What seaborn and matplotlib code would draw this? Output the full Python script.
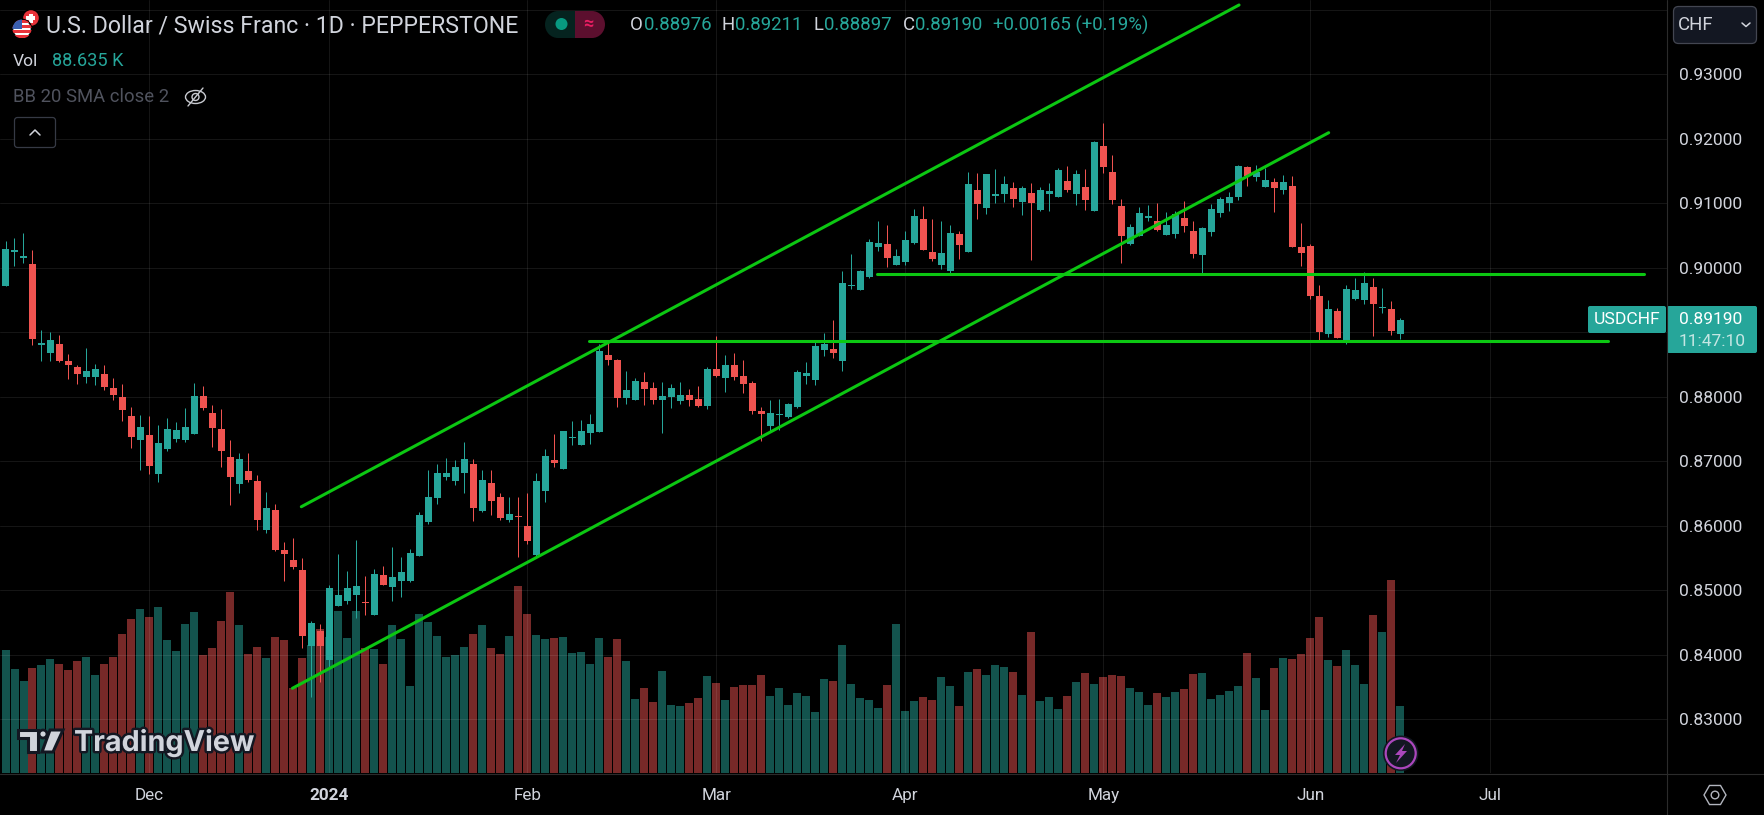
import numpy as np
import pandas as pd
import matplotlib
matplotlib.use("Agg")
import matplotlib.pyplot as plt
from matplotlib.patches import Circle, Rectangle, FancyBboxPatch, Polygon, Ellipse
import matplotlib.patheffects as pe
import seaborn as sns

# prices in 1e-5 CHF
opens = [89718,90248,90155,90059,88806,88680,88819,88556,88463,88307,88307,88354,88137,87997,87703,87331,87408,86804,87191,87346,
87331,87424,88013,87749,87501,87067,86649,86850,86695,85935,86245,85625,85470,85310,84131,84364,83914,84752,84829,84922,
84816,84612,85232,85046,85139,85139,85527,86055,86427,86752,86690,86814,86954,86225,86659,86442,86086,86150,85993,85543,
86535,87015,86876,87354,87248,87434,87449,88643,88566,87977,87945,88225,88132,87945,87992,87930,88023,87961,87852,88426,
88287,88488,88318,88209,87775,87542,87715,87682,87837,88318,88256,88721,88736,88550,89716,89651,89853,90318,90364,90039,
90085,90380,90752,90240,90039,89946,90519,90240,91202,90923,91109,91140,91233,91016,91155,90892,91140,91093,91341,91140,
91248,90876,91884,91481,90954,90364,90488,90768,90721,90504,90519,90768,90566,90194,90550,90845,91000,91093,91558,91403,
91248,91326,91202,91263,90317,90333,89558,88969,89325,88876,89511,89496,89697,89374,89356,88976]
highs = [90416,90463,90540,90276,89036,89005,88959,88664,88494,88757,88509,88494,88292,88199,87842,87718,87703,87563,87672,87610,
87827,88214,88168,87873,87811,87331,87129,87129,86788,86525,86338,85749,85811,85496,84519,84473,85077,85558,85294,85775,
85217,85325,85372,85666,85511,85635,86209,86861,86954,87047,87016,87295,87031,86861,86861,86504,86442,86442,86504,86814,
87186,87418,87465,87620,87635,87728,88814,88860,88581,88395,88287,88380,88225,88225,88194,88225,88116,88163,88457,88938,
88643,88674,88566,88240,87837,87945,87961,87899,88411,88535,88845,88984,89186,89946,90209,89961,90442,90721,90659,90287,
90566,90907,90954,90752,90721,90659,90566,91481,91465,91450,91527,91419,91326,91264,91310,91248,91310,91543,91574,91512,
91527,91961,92240,91744,91062,90674,90938,90969,91000,90860,90876,91031,90721,90628,90985,91093,91171,91589,91574,91589,
91543,91388,91434,91418,90690,90364,89728,89496,89372,89728,89837,89930,89837,89682,89480,89211]
lows = [89718,90028,90075,88804,88556,88556,88540,88276,88199,88214,88183,88106,87951,87625,87207,86866,86804,86680,87160,87300,
87300,87424,87796,87222,86912,86323,86509,86680,85935,85889,85610,85145,85331,84100,83341,83573,83806,84752,84783,84566,
84612,84612,85077,84829,84891,85124,85527,86024,86334,86706,86628,86504,86070,86210,86163,86086,86055,85512,85714,85527,
86364,86907,86876,87248,87248,87263,87449,88488,87837,87884,87945,87868,87884,87434,87822,87884,87852,87837,87806,88302,
88070,88256,88054,87728,87310,87465,87480,87666,87822,88194,88178,88628,88597,88395,89667,89651,89837,90256,90008,90039,
90039,90364,90271,90101,89977,89899,90132,90240,90752,90830,91000,91016,90938,90814,90116,90876,90876,91093,91171,90969,
90892,90876,91465,90985,90070,90349,90488,90721,90566,90504,90457,90550,90147,89899,90488,90783,90876,91047,91264,91341,
91248,90861,91140,90317,90023,89511,88845,88922,88907,88814,89496,89434,88938,89294,88953,88897]
closes = [90292,90264,90171,88897,88822,88881,88556,88494,88354,88400,88432,88152,88028,87796,87377,87532,86928,87284,87501,87486,
87532,88013,87827,87517,87160,86757,87036,86711,86090,86276,85625,85563,85362,84286,84488,84131,85031,84922,85031,85062,
84800,85248,85077,85201,85279,85573,86162,86442,86814,86814,86907,87031,86272,86706,86380,86117,86179,86134,85760,86690,
87077,86969,87465,87370,87465,87573,88705,88566,87977,88101,88240,88116,87945,88008,88132,88023,87945,87852,88426,88318,
88488,88302,88194,87775,87728,87744,87731,87884,88380,88364,88783,88814,88674,89760,89732,89946,90395,90380,90147,90178,
90426,90799,90271,90132,90225,90535,90349,91295,90985,91450,91140,91295,91062,91233,91000,91202,91186,91512,91202,91450,
91047,91946,91558,91047,90488,90628,90845,90799,90581,90659,90830,90643,90209,90612,90907,91062,91093,91574,91419,91481,
91357,91233,91326,90317,90224,89558,88999,89356,88907,89666,89651,89759,89434,89390,89015,89190]
# volume in thousands
volumes = [163.2,138.0,122.2,139.4,143.3,151.3,144.6,136.7,148.6,153.9,130.1,144.6,153.9,184.3,204.2,217.4,206.8,220.1,176.4,161.8,
197.6,213.4,156.6,165.8,201.5,239.9,196.2,157.9,167.1,152.6,180.4,176.4,112.5,152.6,169.8,191.0,180.4,214.8,179.0,214.8,
165.8,164.5,144.6,196.2,177.7,115.5,210.8,200.2,181.7,153.9,156.6,167.1,184.3,196.2,165.8,157.9,181.7,247.8,210.8,183.0,
177.7,179.0,180.4,159.2,160.5,144.6,179.0,153.9,177.7,148.6,98.3,112.9,94.4,135.4,90.4,89.1,93.1,99.7,128.8,119.5,
97.0,114.2,116.9,116.9,130.1,102.3,112.9,90.4,106.3,102.3,81.1,124.8,122.2,169.8,118.2,99.7,97.0,86.4,116.9,197.6,
82.5,95.7,101.0,97.0,127.4,115.5,89.1,134.1,138.0,130.1,143.3,140.7,134.1,103.6,187.0,95.7,101.0,85.1,102.3,120.8,
132.7,118.2,127.4,130.1,128.8,112.9,107.6,90.4,106.3,101.0,107.6,111.6,131.4,132.7,98.3,103.6,108.9,115.5,159.2,126.1,
83.8,139.4,152.6,151.3,157.9,179.0,206.8,149.9,142.0,163.2,143.3,118.2,209.5,187.0,255.8,88.6]

price_ticks = [0.83,0.84,0.85,0.86,0.87,0.88,0.89,0.90,0.91,0.92,0.93,0.94]
price_labels = ["0.83000","0.84000","0.85000","0.86000","0.87000","0.88000","","0.90000","0.91000","0.92000","0.93000",""]
month_index = [16,36,58,79,100,122,145,165]
month_labels = ["Dec","2024","Feb","Mar","Apr","May","Jun","Jul"]

# drawings: (bar index, price) end points
upper_channel = ([32.87,137.06],[0.86291,0.94070])
lower_channel = ([31.88,147.02],[0.83476,0.92090])
resistance = ([96.8,182.06],[0.89904,0.89904])
support = ([64.8,178.05],[0.88868,0.88868])

UP, DOWN, LINE = "#26a69a", "#ef5350", "#0cc712"
TXT = "#d1d4dc"

sns.set_theme(style="dark", rc={"figure.facecolor":"black","axes.facecolor":"black",
    "axes.grid":False,"xtick.color":"#d1d4dc","ytick.color":"#d1d4dc"})
plt.rcParams["font.family"] = ["Roboto","DejaVu Sans"]

W,H = 1765,815
fig = plt.figure(figsize=(W/100,H/100),dpi=100,facecolor="black")
rect = [0,(H-773)/H,1667/W,773/H]
ax_vol = fig.add_axes(rect,zorder=1)
ax = fig.add_axes(rect,zorder=2,facecolor="none")

o,h,l,c = [np.array(a)/1e5 for a in (opens,highs,lows,closes)]
idx = np.arange(len(o))
direction = np.where(c>=o,"up","down")
df = pd.DataFrame({"idx":idx,"vol":volumes,"dir":direction})

sns.barplot(data=df,x="idx",y="vol",hue="dir",palette={"up":UP,"down":DOWN},native_scale=True,
            dodge=False,width=8/9,saturation=1,alpha=0.5,errorbar=None,legend=False,linewidth=0,ax=ax_vol)
xlim = (-5.5/9,(1667-5.5)/9)
ax_vol.set_xlim(xlim); ax_vol.set_ylim(0,773*1.323)
ax_vol.set_axis_off()

cols = np.where(c>=o,UP,DOWN)
ax.vlines(idx,l,h,colors=cols,linewidth=0.72,zorder=3,snap=True)
ax.bar(idx,np.abs(c-o),bottom=np.minimum(o,c),width=7/9,color=cols,linewidth=0,zorder=4)

for line in (upper_channel,lower_channel,resistance,support):
    ax.plot(line[0],line[1],color=LINE,lw=2.2,solid_capstyle="round",zorder=5)

ax.set_xlim(xlim)
ax.set_ylim(0.93-699/6450,0.93+74/6450)
ax.set_yticks(price_ticks,labels=price_labels)
ax.set_xticks(month_index,labels=month_labels)
ax.yaxis.tick_right()
ax.tick_params(axis="y",length=0,pad=8.6,labelsize=12.5,labelcolor=TXT)
ax.tick_params(axis="x",length=0,pad=10.5,labelsize=12.3,labelcolor=TXT)
ax.get_xticklabels()[1].set_fontweight("bold")
ax.grid(True,color="white",alpha=0.085,lw=0.72,zorder=0)
ax.set_axisbelow(True)
for s in ax.spines.values():
    s.set_visible(False)

# overlay in pixel coordinates for the TradingView chrome
ov = fig.add_axes([0,0,1,1],zorder=5,facecolor="none")
ov.set_xlim(0,W); ov.set_ylim(H,0); ov.set_axis_off()
ov.plot([0,W],[773.5,773.5],color="#2b2b2b",lw=0.8)
ov.plot([1667.5,1667.5],[0,H],color="#2b2b2b",lw=0.8)

def T(x,y,s,color=TXT,size=12,ha="left",**k):
    return ov.text(x,y,s,color=color,fontsize=size,ha=ha,va="center",**k)

# flags
ch = Circle((31,18),8.5,fc="#e8333a",ec="black",lw=1); ov.add_patch(ch)
ov.add_patch(Rectangle((29,13.5),4,9,fc="white",ec="none"))
ov.add_patch(Rectangle((26.5,16),9,4,fc="white",ec="none"))
us = Circle((22,29),9.5,fc="white",ec="black",lw=1.2); ov.add_patch(us)
for k in range(4):
    r = Rectangle((12,20+k*5),20,2.5,fc="#e8333a",ec="none"); ov.add_patch(r); r.set_clip_path(us)
r = Rectangle((12,19),10,10,fc="#3a5fb0",ec="none"); ov.add_patch(r); r.set_clip_path(us)

T(46,26,"U.S. Dollar / Swiss Franc · 1D · PEPPERSTONE",size=16.7)
# status pill
ov.add_patch(Ellipse((558,24.5),26,27,fc="#05231f",ec="none"))
ov.add_patch(Rectangle((558,11),17,27,fc="#05231f",ec="none"))
ov.add_patch(Ellipse((592,24.5),26,27,fc="#5c0f2e",ec="none"))
ov.add_patch(Rectangle((575,11),17,27,fc="#5c0f2e",ec="none"))
ov.add_patch(Circle((561.5,24),6,fc="#089981",ec="none"))
T(588.5,24,"≈",color="#e91e63",size=13,ha="center",fontweight="bold")

# OHLC legend
for x,s,col in [(629.5,"O","#d1d4dc"),(644,"0.88976",UP),(722,"H","#d1d4dc"),(735.5,"0.89211",UP),
                (813.5,"L","#d1d4dc"),(824.5,"0.88897",UP),(902.5,"C","#d1d4dc"),(915.5,"0.89190",UP),
                (993.5,"+0.00165 (+0.19%)",UP)]:
    T(x,25,s,color=col,size=13.4)

T(13,61,"Vol",size=12.6)
T(52,61,"88.635 K",color=UP,size=13.1)
T(13,97,"BB 20 SMA close 2",color="#50535e",size=13.3)
# hidden eye icon
ov.add_patch(Ellipse((195.5,97),20,13,fc="none",ec="#c8cad0",lw=1))
ov.add_patch(Circle((195.5,97),3.5,fc="none",ec="#c8cad0",lw=1))
ov.plot([188,203],[106,88],color="#c8cad0",lw=1)
# collapse button
ov.add_patch(FancyBboxPatch((14.5,117.5),41,30,boxstyle="round,pad=0,rounding_size=3",fc="black",ec="#363a45",lw=0.9))
ov.plot([30,35,40],[135,130,135],color="#d1d4dc",lw=1.1)

# currency button
ov.add_patch(FancyBboxPatch((1673.5,6.5),83,37,boxstyle="round,pad=0,rounding_size=5",fc="#131722",ec="#434651",lw=0.9))
T(1678,25,"CHF",size=13.4)
ov.plot([1742,1746,1750],[23,26.5,23],color="#d1d4dc",lw=1.1)

# last price tags
ov.add_patch(FancyBboxPatch((1588,306),78,27,boxstyle="round,pad=0,rounding_size=2",fc=UP,ec="none"))
T(1627,320,"USDCHF",color="white",size=12.6,ha="center")
ov.add_patch(FancyBboxPatch((1667,306),90,47,boxstyle="round,pad=0,rounding_size=2",fc=UP,ec="none"))
T(1679,319.5,"0.89190",color="white",size=12.5)
T(1679,341,"11:47:10",color="#c5e6e3",size=12.5)

# watermark
logo_fx = [pe.withStroke(linewidth=3.5,foreground="#131722")]
for pts in ([(18,730),(38,730),(38,752),(28,752),(28,738),(18,738)],[(50,730),(63,730),(53,752),(42,752)]):
    p = Polygon(pts,closed=True,fc="#d1d4dc",ec="#131722",lw=2.2); ov.add_patch(p)
ov.add_patch(Circle((43,734),4,fc="#d1d4dc",ec="#131722",lw=2))
T(74,743,"TradingView",size=20.7,fontweight="bold",family=["Inter","Roboto"],path_effects=logo_fx)

# bolt icon
ov.add_patch(Circle((1400.7,753.3),15,fc="#131722",ec="#ab47bc",lw=1.6,path_effects=[pe.withStroke(linewidth=4,foreground="#131722")]))
ov.add_patch(Polygon([(1405,744),(1395,755),(1400,755),(1396,763),(1407,751),(1402,751)],closed=True,fc="#ab47bc",ec="none"))

# settings icon
th = np.deg2rad(np.arange(0,360,60))
ov.add_patch(Polygon(np.c_[1715+11*np.cos(th),795+11*np.sin(th)],closed=True,fc="none",ec="#b2b5be",lw=1))
ov.add_patch(Circle((1715,795),3.8,fc="none",ec="#b2b5be",lw=1))

fig.savefig("out.png",dpi=100,facecolor="black")
